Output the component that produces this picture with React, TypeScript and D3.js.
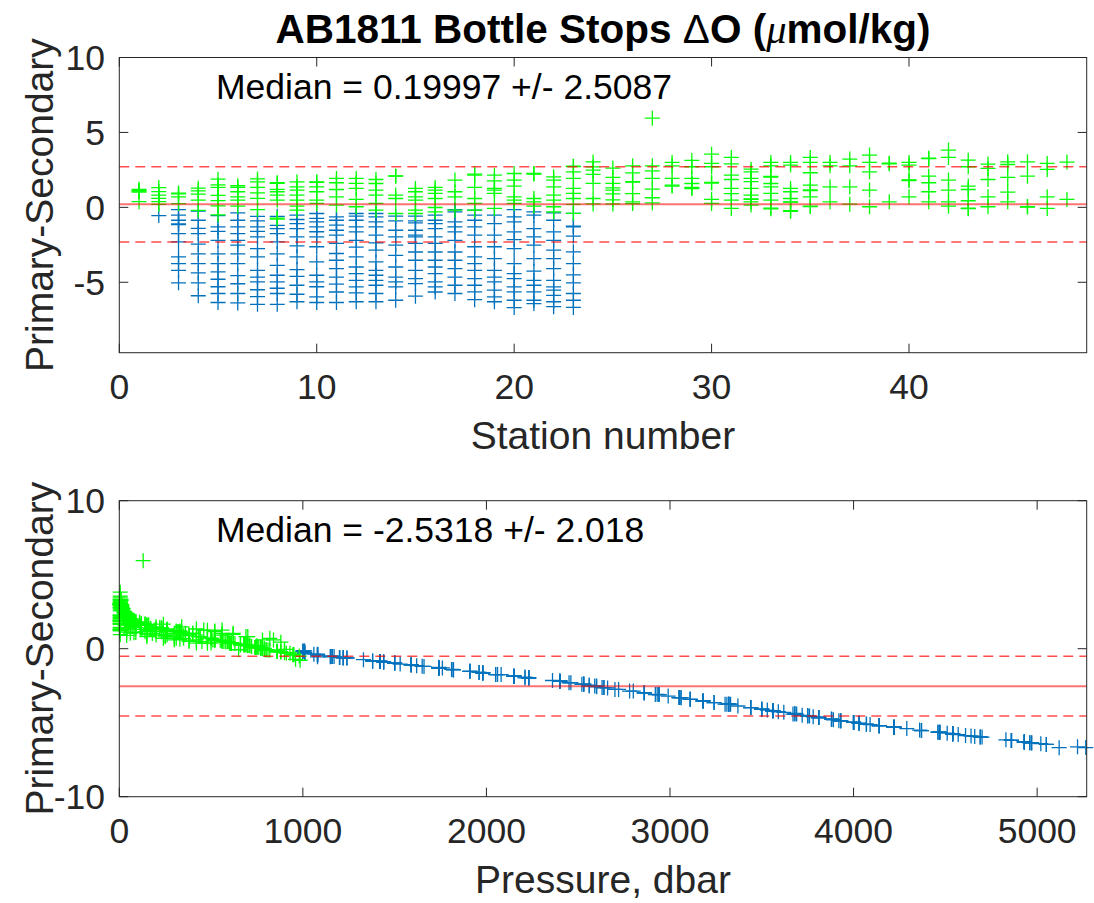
import React from 'react';
import * as d3 from 'd3';

type Bottle = [number, number]; // [pressure (dbar), primary - secondary (umol/kg)]

// ---- bottle stops per station ----
const s01: Bottle[] = [[5,1.2],[40,1.12],[80,1.08],[150,1.02],[420,0.38]];
const s02: Bottle[] = [[5,1.32],[60,1.05],[150,0.82],[300,0.6],[500,0.38],[750,0.2],[1080,-0.55]];
const s03: Bottle[] = [[5,0.95],[40,0.9],[350,0.7],[660,0.25],[1000,-0.15],[1170,-0.52],[1420,-0.86],[1590,-1.1],[1620,-1.15],[2060,-1.75],[2450,-2.3],[3060,-3.3],[3320,-3.75],[3560,-4.2],[4030,-5.04]];
const s04: Bottle[] = [[5,1.28],[90,1.1],[350,0.88],[560,0.48],[880,-0.2],[1010,-0.25],[1420,-0.86],[1810,-1.4],[2050,-1.75],[2560,-2.46],[2920,-3.1],[3320,-3.75],[3680,-4.37],[4030,-5.04],[4640,-5.9]];
const s05: Bottle[] = [[5,1.88],[70,1.5],[200,1.33],[250,0.8],[580,0.45],[760,0.1],[980,-0.5],[1150,-0.55],[1740,-1.3],[1960,-1.6],[2400,-2.2],[2940,-3.1],[3320,-3.75],[3620,-4.3],[3890,-4.8],[4220,-5.3],[4540,-5.75],[4960,-6.35]];
const s06: Bottle[] = [[5,1.44],[40,1.33],[300,1.04],[480,0.7],[590,0.48],[740,0.08],[1060,-0.37],[1420,-0.86],[1740,-1.3],[2080,-1.75],[2400,-2.2],[2590,-2.52],[2940,-3.1],[3320,-3.75],[3760,-4.55],[4070,-5.1],[4540,-5.75],[4970,-6.38]];
const s07: Bottle[] = [[5,1.9],[40,1.7],[200,1.33],[620,0.97],[520,0.6],[860,-0.15],[1220,-0.6],[1440,-0.9],[1740,-1.3],[1960,-1.6],[2230,-1.97],[2700,-2.75],[3050,-3.3],[3560,-4.2],[3810,-4.65],[4000,-4.98],[4360,-5.5],[4690,-5.96],[5050,-6.47]];
const s08: Bottle[] = [[5,1.64],[30,1.6],[330,1.2],[400,1.04],[440,0.82],[590,0.48],[960,-0.72],[985,-0.78],[1220,-0.6],[1660,-1.2],[1820,-1.42],[2060,-1.75],[2460,-2.3],[2940,-3.1],[3370,-3.87],[3750,-4.53],[4000,-4.98],[4290,-5.4],[4540,-5.75],[5050,-6.47]];
const s09: Bottle[] = [[5,1.7],[170,1.37],[310,1.15],[300,0.82],[590,0.48],[740,0.08],[860,-0.19],[1150,-0.52],[1380,-0.81],[1590,-1.08],[1820,-1.42],[2210,-1.97],[2600,-2.57],[3050,-3.3],[3530,-4.15],[3780,-4.6],[4140,-5.2],[4570,-5.8],[4930,-6.3]];
const s10: Bottle[] = [[5,1.7],[50,1.66],[170,1.37],[560,1.04],[590,0.48],[680,0.26],[1080,-0.41],[1330,-0.74],[1500,-0.97],[1740,-1.3],[1980,-1.63],[2230,-1.97],[2630,-2.63],[3240,-3.64],[3750,-4.53],[4000,-4.98],[4220,-5.3],[4700,-5.97],[4960,-6.35]];
const s11: Bottle[] = [[5,1.93],[90,1.64],[520,1.19],[500,0.7],[720,0.15],[1220,-0.64],[1380,-0.86],[1650,-1.19],[1910,-1.53],[2150,-1.86],[2520,-2.41],[2930,-3.08],[3180,-3.53],[3500,-4.09],[3810,-4.65],[4090,-5.13],[4470,-5.65],[4970,-6.35]];
const s12: Bottle[] = [[5,1.93],[120,1.6],[260,1.26],[560,0.53],[770,0.04],[1080,-0.41],[1200,-0.59],[1420,-0.86],[1740,-1.3],[1980,-1.64],[2400,-2.2],[2660,-2.65],[3060,-3.31],[3440,-3.98],[3670,-4.42],[3920,-4.87],[4220,-5.31],[4510,-5.71],[4930,-6.3]];
const s13: Bottle[] = [[5,1.86],[120,1.59],[200,1.15],[440,0.82],[680,0.26],[860,-0.19],[1080,-0.41],[1240,-0.63],[1500,-0.97],[1740,-1.3],[2150,-1.86],[2530,-2.37],[2800,-2.86],[3240,-3.64],[3560,-4.2],[3750,-4.53],[3930,-4.87],[4140,-5.2],[4540,-5.75],[4930,-6.3]];
const s14: Bottle[] = [[5,2.1],[40,2.08],[430,0.82],[510,0.59],[950,-0.41],[1200,-0.59],[1440,-0.9],[1910,-1.53],[2230,-1.97],[2600,-2.52],[2990,-3.2],[3440,-3.98],[3810,-4.65],[4000,-4.98],[4220,-5.31],[4860,-6.2]];
const s15: Bottle[] = [[5,1.26],[330,1.04],[480,0.7],[590,0.48],[860,-0.19],[945,-0.41],[1200,-0.59],[1440,-0.9],[1530,-1.04],[1910,-1.53],[2150,-1.86],[2230,-1.97],[2530,-2.41],[2860,-2.98],[3180,-3.53],[3560,-4.2],[3880,-4.76],[4070,-5.09],[4660,-5.93]];
const s16: Bottle[] = [[5,1.33],[230,1.15],[380,0.93],[840,0.59],[780,-0.01],[910,-0.3],[1160,-0.52],[1420,-0.86],[1590,-1.08],[1820,-1.42],[2230,-1.97],[2530,-2.41],[2860,-2.98],[3180,-3.53],[3440,-3.98],[3690,-4.42],[4000,-4.98],[4220,-5.31],[4470,-5.65]];
const s17: Bottle[] = [[5,1.82],[400,1.04],[500,0.7],[860,-0.19],[1005,-0.15],[1010,-0.3],[1500,-0.97],[1740,-1.3],[1980,-1.64],[2400,-2.2],[2860,-2.98],[3180,-3.53],[3500,-4.09],[3810,-4.65],[4140,-5.2],[4540,-5.75]];
const s18: Bottle[] = [[5,2.22],[20,2.15],[260,1.33],[520,0.59],[680,0.26],[860,-0.19],[1000,-0.19],[1160,-0.52],[1420,-0.86],[1740,-1.3],[2150,-1.86],[2640,-2.63],[3050,-3.3],[3310,-3.75],[3560,-4.2],[3880,-4.76],[4140,-5.2],[4470,-5.64],[4830,-6.16]];
const s19: Bottle[] = [[5,2.15],[80,1.77],[260,1.26],[320,1.15],[150,0.93],[800,-0.07],[1160,-0.52],[1590,-1.08],[2150,-1.86],[2640,-2.63],[3110,-3.42],[3560,-4.2],[3810,-4.65],[4000,-4.98],[4370,-5.53],[4690,-5.97],[4930,-6.3]];
const s20: Bottle[] = [[5,2.26],[60,1.82],[230,1.42],[300,0.7],[590,0.48],[680,0.26],[1010,-0.15],[1240,-0.63],[1500,-0.97],[1980,-1.64],[2360,-2.15],[2720,-2.75],[3300,-3.75],[3680,-4.42],[3880,-4.76],[4220,-5.31],[4460,-5.64],[4860,-6.2],[5120,-6.69]];
const s21: Bottle[] = [[5,2.26],[20,2.22],[520,0.59],[600,0.37],[740,0.08],[1010,-0.3],[1160,-0.52],[1820,-1.42],[2230,-1.97],[2560,-2.52],[3110,-3.42],[3590,-4.26],[3930,-4.87],[4140,-5.2],[4460,-5.64],[4860,-6.2],[5020,-6.42]];
const s22: Bottle[] = [[5,2.04],[60,1.82],[170,1.37],[690,0.82],[590,0.48],[770,0.04],[930,-0.3],[1080,-0.37],[1420,-0.86],[1980,-1.64],[2400,-2.2],[2780,-2.86],[3110,-3.42],[3500,-4.09],[3930,-4.87],[4220,-5.31],[4370,-5.53],[4610,-5.87],[4930,-6.3],[5220,-6.63]];
const s23: Bottle[] = [[5,2.75],[12,2.72],[40,2.37],[80,1.93],[260,1.26],[380,0.93],[520,0.59],[700,0.2],[950,-0.4],[1080,-0.4],[1740,-1.26],[1760,-1.3],[2210,-1.92],[2860,-2.97],[3330,-3.75],[3720,-4.5],[4030,-5.04],[4540,-5.75],[4860,-6.2],[5265,-6.68]];
const s24: Bottle[] = [[5,3.03],[15,2.7],[30,2.48],[45,2.2],[60,1.6],[420,0.59],[710,0.23]];
const s25: Bottle[] = [[5,2.62],[60,2.0],[150,1.6],[120,1.3],[330,1.15],[250,0.9],[380,0.5],[710,0.23]];
const s26: Bottle[] = [[5,2.77],[35,2.3],[120,1.72],[140,1.68],[200,0.92],[480,0.37],[690,0.25]];
const s27: Bottle[] = [[5,2.77],[25,2.44],[70,1.93],[130,5.95],[150,1.22],[330,0.64],[660,0.3]];
const s28: Bottle[] = [[5,3.0],[12,2.77],[70,1.93],[200,1.48],[220,1.42]];
const s29: Bottle[] = [[5,3.13],[15,2.71],[70,1.93],[150,1.59],[420,1.33],[480,1.25]];
const s30: Bottle[] = [[5,3.55],[10,2.93],[20,2.71],[240,1.66],[160,1.62],[380,0.53],[690,0.26]];
const s31: Bottle[] = [[5,3.33],[12,2.9],[50,2.15],[80,1.86],[190,1.26],[560,0.92],[450,0.48],[650,-0.07]];
const s32: Bottle[] = [[5,2.55],[30,2.37],[70,1.93],[120,1.71],[560,1.26],[700,0.82],[550,0.57],[560,0.53],[610,0.37],[720,0.15]];
const s33: Bottle[] = [[5,3.0],[15,2.77],[55,2.06],[65,2.02],[150,1.59],[230,1.37],[260,0.93],[570,0.48],[900,-0.05],[820,-0.1]];
const s34: Bottle[] = [[5,3.0],[12,2.82],[460,1.26],[360,1.04],[780,0.59],[610,0.37],[630,0.35],[880,-0.22],[900,-0.26]];
const s35: Bottle[] = [[5,3.33],[12,3.0],[35,2.31],[340,1.48],[320,1.16],[340,1.12],[310,0.7],[750,0.08],[770,0.05]];
const s36: Bottle[] = [[5,3.0],[15,2.77],[230,1.37],[610,0.37]];
const s37: Bottle[] = [[5,3.22],[15,2.77],[230,1.37],[700,0.21]];
const s38: Bottle[] = [[5,3.49],[12,3.0],[30,2.37],[140,1.15],[770,0.04]];
const s39: Bottle[] = [[5,2.95],[15,2.91],[610,0.37]];
const s40: Bottle[] = [[5,3.0],[12,2.82],[90,1.83],[110,1.79],[500,0.7]];
const s41: Bottle[] = [[5,3.28],[10,3.25],[50,2.08],[140,1.64],[620,1.04],[610,0.37]];
const s42: Bottle[] = [[5,3.82],[10,3.33],[90,1.82],[520,1.15],[610,0.37],[750,0.08]];
const s43: Bottle[] = [[5,3.15],[20,2.71],[90,1.42],[310,1.19],[880,0.44],[790,-0.06],[810,-0.09]];
const s44: Bottle[] = [[5,2.89],[20,2.6],[80,1.86],[240,0.7],[770,0.04]];
const s45: Bottle[] = [[5,3.04],[12,2.86],[60,2.0],[180,1.02],[610,0.37]];
const s46: Bottle[] = [[5,3.04],[50,2.08],[770,0.05],[790,0.02]];
const s47: Bottle[] = [[5,2.93],[25,2.53],[820,0.7],[800,-0.07]];
const s48: Bottle[] = [[5,3.02],[560,0.53]];

const STATION_CASTS: Bottle[][] = [
  s01, s02, s03, s04, s05, s06, s07, s08, s09, s10, s11, s12, s13, s14, s15, s16,
  s17, s18, s19, s20, s21, s22, s23, s24, s25, s26, s27, s28, s29, s30, s31, s32,
  s33, s34, s35, s36, s37, s38, s39, s40, s41, s42, s43, s44, s45, s46, s47, s48,
];

const STATION_TICKS = [0, 10, 20, 30, 40];
const PRESSURE_TICKS = [0, 1000, 2000, 3000, 4000, 5000];
const STATION_Y_TICKS = [10, 5, 0, -5];
const PRESSURE_Y_TICKS = [10, 0, -10];
const STATION_MEDIAN = 0.19997;
const STATION_SPREAD = 2.5087;
const PRESSURE_MEDIAN = -2.5318;
const PRESSURE_SPREAD = 2.018;
const SHALLOW_LIMIT = 1000; // dbar, green above this pressure

// ---- layout ----
const W = 1094;
const H = 903;
const LEFT = 119.3;
const RIGHT = 1086.7;
const FONT = "'Liberation Sans', Arial, Helvetica, sans-serif";
const AX = '#262626';
const GREEN = '#00ff00';
const BLUE = '#0072bd';
const PLUS = 'M-7.5,0H7.5M0,-7.5V7.5';

type Pt = { x: number; y: number; shallow: boolean };

const points = STATION_CASTS.flatMap((cast, i) =>
  cast.map(([p, d]) => ({ station: i + 1, pressure: p, diff: d, shallow: p < SHALLOW_LIMIT }))
);

function Panel(props: {
  top: number; bottom: number; xDomain: [number, number]; yDomain: [number, number];
  xTicks: number[]; yTicks: number[]; xLabel: string; pts: Pt[];
  median: number; spread: number;
}) {
  const { top, bottom, xDomain, yDomain, xTicks, yTicks, xLabel, pts, median, spread } = props;
  const x = d3.scaleLinear().domain(xDomain).range([LEFT, RIGHT]);
  const y = d3.scaleLinear().domain(yDomain).range([bottom, top]);
  const deep = pts.filter(p => !p.shallow);
  const shallow = pts.filter(p => p.shallow);
  const note = `Median = ${median} +/- ${spread}`;
  const tl = 9;
  return (
    <g>
      <rect x={LEFT} y={top} width={RIGHT - LEFT} height={bottom - top} fill="#fff" />
      {deep.map((p, i) => (
        <path key={'d' + i} d={PLUS} transform={`translate(${x(p.x)},${y(p.y)})`} stroke={BLUE} strokeWidth={1.3} fill="none" />
      ))}
      {shallow.map((p, i) => (
        <path key={'s' + i} d={PLUS} transform={`translate(${x(p.x)},${y(p.y)})`} stroke={GREEN} strokeWidth={1.3} fill="none" />
      ))}
      <line x1={LEFT} x2={RIGHT} y1={y(median)} y2={y(median)} stroke="#ff0000" strokeOpacity={0.55} strokeWidth={2} />
      {[median + spread, median - spread].map((v, i) => (
        <line key={'r' + i} x1={LEFT} x2={RIGHT} y1={y(v)} y2={y(v)} stroke="#ff0000" strokeOpacity={0.7} strokeWidth={1.5} strokeDasharray="10 6" />
      ))}
      <text x={x(xDomain[1] * 0.1)} y={y(8)} dominantBaseline="central" fontFamily={FONT} fontSize={35.5} fill="#000">{note}</text>
      <rect x={LEFT} y={top} width={RIGHT - LEFT} height={bottom - top} fill="none" stroke={AX} strokeWidth={1} />
      {xTicks.map(t => (
        <g key={'xt' + t}>
          <line x1={x(t)} x2={x(t)} y1={bottom} y2={bottom - tl} stroke={AX} strokeWidth={1} />
          <line x1={x(t)} x2={x(t)} y1={top} y2={top + tl} stroke={AX} strokeWidth={1} />
          <text x={x(t)} y={bottom + 46} textAnchor="middle" fontFamily={FONT} fontSize={35.5} fill={AX}>{t}</text>
        </g>
      ))}
      {yTicks.map(t => (
        <g key={'yt' + t}>
          <line x1={LEFT} x2={LEFT + tl} y1={y(t)} y2={y(t)} stroke={AX} strokeWidth={1} />
          <line x1={RIGHT} x2={RIGHT - tl} y1={y(t)} y2={y(t)} stroke={AX} strokeWidth={1} />
          <text x={105} y={y(t)} dy="0.36em" textAnchor="end" fontFamily={FONT} fontSize={35.5} fill={AX}>{t}</text>
        </g>
      ))}
      <text x={(LEFT + RIGHT) / 2} y={bottom + 96} textAnchor="middle" fontFamily={FONT} fontSize={39} fill={AX}>{xLabel}</text>
      <text transform={`translate(53,${(top + bottom) / 2}) rotate(-90)`} textAnchor="middle" fontFamily={FONT} fontSize={39} fill={AX}>Primary-Secondary</text>
    </g>
  );
}

export default function App() {
  const stationPts: Pt[] = points.map(p => ({ x: p.station, y: p.diff, shallow: p.shallow }));
  const pressurePts: Pt[] = points.map(p => ({ x: p.pressure, y: p.diff, shallow: p.shallow }));
  return (
    <svg width={W} height={H} style={{ position: 'absolute', left: 0, top: 0, background: '#fff' }}>
      <rect width={W} height={H} fill="#fff" />
      <text x={(LEFT + RIGHT) / 2} y={43} textAnchor="middle" fontFamily={FONT} fontSize={40.5} fontWeight="bold" fill="#000">
        AB1811 Bottle Stops <tspan fontWeight="normal">Δ</tspan>O (<tspan fontFamily="'Liberation Serif', 'DejaVu Serif', serif" fontStyle="italic" fontWeight="normal">μ</tspan>mol/kg)
      </text>
      <Panel top={57.5} bottom={352.7} xDomain={[0, 49]} yDomain={[-9.7, 10]} xTicks={STATION_TICKS} yTicks={STATION_Y_TICKS}
        xLabel="Station number" pts={stationPts} median={STATION_MEDIAN} spread={STATION_SPREAD} />
      <Panel top={500.7} bottom={796.7} xDomain={[0, 5270]} yDomain={[-10, 10]} xTicks={PRESSURE_TICKS} yTicks={PRESSURE_Y_TICKS}
        xLabel="Pressure, dbar" pts={pressurePts} median={PRESSURE_MEDIAN} spread={PRESSURE_SPREAD} />
    </svg>
  );
}
